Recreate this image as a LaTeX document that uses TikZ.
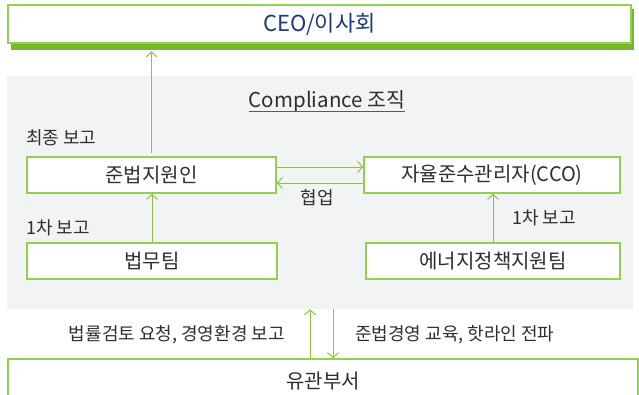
\documentclass[tikz,border=0pt]{standalone}
\usepackage{fontspec}
\setmainfont{Noto Sans CJK KR}
\usetikzlibrary{arrows.meta}
\definecolor{gline}{HTML}{8CC63F}
\definecolor{gbox}{HTML}{92D050}
\definecolor{gshadow}{HTML}{78B82A}
\definecolor{panelc}{HTML}{F2F3F5}
\definecolor{txt}{HTML}{2E2E2E}
\definecolor{navy}{HTML}{1F3A7A}
\tikzset{
  boxn/.style={draw=gbox, line width=1.5pt, fill=white, text=txt, inner sep=0pt,
    font=\fontsize{20}{23}\selectfont},
  lbl/.style={text=txt, inner sep=0pt, font=\fontsize{18}{21}\selectfont},
  arr/.style={draw=gline, line width=1pt, -{Straight Barb[length=5pt,width=11pt,line width=1pt]}},
}
\begin{document}
\begin{tikzpicture}[x=1pt,y=-1pt]
\useasboundingbox (0,0) rectangle (639,394);
% CEO with shadow
\fill[gshadow] (11,9) rectangle (634,50);
\node[boxn, minimum width=623pt, minimum height=38pt, text=navy,
  font=\fontsize{22}{25}\selectfont] (ceo) at (319.5,24) {CEO/이사회};
% panel
\node[fill=panelc, inner sep=0pt, minimum width=626pt, minimum height=233pt] (panel) at (320,192.5) {};
\node[text=txt, inner sep=0pt, font=\fontsize{20.5}{24}\selectfont] (title) at (327,101) {Compliance 조직};
\draw[color=black!65, line width=1.3pt] ([yshift=-4.5pt]title.base west) -- ([yshift=-4.5pt]title.base east);
% boxes
\node[boxn, minimum width=249pt, minimum height=36pt] (jun) at (151.5,175) {준법지원인};
\node[boxn, minimum width=256pt, minimum height=36pt] (cco) at (492,175) {자율준수관리자(CCO)};
\node[boxn, minimum width=250pt, minimum height=36pt] (law) at (152,261) {법무팀};
\node[boxn, minimum width=254pt, minimum height=36pt] (ene) at (493,261) {에너지정책지원팀};
\node[boxn, minimum width=630pt, minimum height=44pt] (dept) at (323,381) {유관부서};
% arrows
\draw[arr, shorten <=3pt, shorten >=7.5pt] (jun.north) -- (jun.north |- ceo.south);
\draw[arr] ([yshift=8pt]jun.east) -- ([yshift=8pt]cco.west);
\draw[arr] ([yshift=-8pt]cco.west) -- ([yshift=-8pt]jun.east);
\draw[arr] (law.north) -- (law.north |- jun.south);
\draw[arr] (ene.north) -- (ene.north |- cco.south);
\draw[arr] ([xshift=-13pt]dept.north) -- ([xshift=-13pt]dept.north |- panel.south);
\draw[arr] ([xshift=10pt]dept.north |- panel.south) -- ([xshift=10pt]dept.north);
% labels
\node[lbl, anchor=west] (l1) at (26,138) {최종 보고};
\node[lbl, anchor=west] (l2) at (26,228) {1차 보고};
\node[lbl, anchor=west] (l3) at (512,218) {1차 보고};
\node[lbl] (l4) at (317,198) {협업};
\node[lbl, anchor=east] (l5) at (285,335) {법률검토 요청, 경영환경 보고};
\node[lbl, anchor=west] (l6) at (355,335) {준법경영 교육, 핫라인 전파};
\end{tikzpicture}
\end{document}
